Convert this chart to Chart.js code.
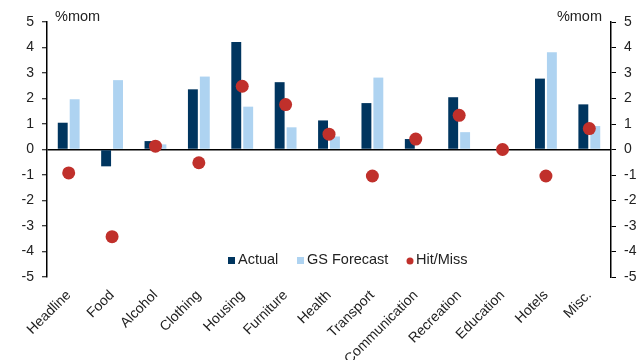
<!DOCTYPE html>
<html>
<head>
<meta charset="utf-8">
<script src="https://cdn.jsdelivr.net/npm/chart.js@4/dist/chart.umd.min.js"></script>
<style>
  html, body { margin: 0; padding: 0; background: #fff; }
  #wrap { width: 644px; height: 360px; }
</style>
</head>
<body>
<div id="wrap"><canvas id="c" width="644" height="360"></canvas></div>
<script>
// CPI components, month-on-month % change
const categories = ['Headline', 'Food', 'Alcohol', 'Clothing', 'Housing', 'Furniture', 'Health',
  'Transport', 'Communication', 'Recreation', 'Education', 'Hotels', 'Misc.'];
const actual     = [1.05, -0.66, 0.33, 2.36, 4.22, 2.64, 1.14, 1.82, 0.41, 2.05, 0.0, 2.78, 1.77];
const gsForecast = [1.97, 2.72, 0.20, 2.86, 1.68, 0.87, 0.51, 2.82, 0.0, 0.68, 0.0, 3.81, 0.92];
const hitMiss    = [-0.92, -3.42, 0.13, -0.52, 2.48, 1.76, 0.60, -1.04, 0.41, 1.34, 0.0, -1.04, 0.82];
const yTicks     = [-5, -4, -3, -2, -1, 0, 1, 2, 3, 4, 5];
const unitLabel  = '%mom';

const FONT = "'Liberation Sans', Arial, sans-serif";
const TEXT = '#222222';
const NAVY = '#00355f';
const LIGHT = '#aed3f1';
const RED = '#c0302b';

// Legend and unit captions drawn inside the plot area
const overlay = {
  id: 'overlay',
  afterDraw(chart) {
    const ctx = chart.ctx;
    const area = chart.chartArea;
    ctx.save();
    ctx.fillStyle = TEXT;
    ctx.font = '14.5px ' + FONT;
    ctx.textBaseline = 'middle';
    ctx.textAlign = 'left';
    ctx.fillText(unitLabel, area.left + 8, 17);
    ctx.textAlign = 'right';
    ctx.fillText(unitLabel, area.right - 9, 17);

    const y = 260;
    const markerX = [228, 297, 406];
    const items = chart.data.datasets;
    ctx.font = '14.5px ' + FONT;
    ctx.textAlign = 'left';
    items.forEach((ds, i) => {
      const x = markerX[i];
      ctx.fillStyle = ds.backgroundColor;
      if (i === 2) {
        ctx.beginPath();
        ctx.arc(x + 4, y + 1, 3.5, 0, Math.PI * 2);
        ctx.fill();
      } else {
        ctx.fillRect(x, y - 3, 7, 7);
      }
      ctx.fillStyle = TEXT;
      ctx.fillText(ds.label, x + 10, y);
    });
    ctx.restore();
  }
};

new Chart(document.getElementById('c'), {
  type: 'bar',
  data: {
    labels: categories,
    datasets: [
      { label: 'Actual', data: actual, backgroundColor: NAVY, order: 1,
        categoryPercentage: 0.55, barPercentage: 0.83 },
      { label: 'GS Forecast', data: gsForecast, backgroundColor: LIGHT, order: 1,
        categoryPercentage: 0.55, barPercentage: 0.83 },
      { label: 'Hit/Miss', data: hitMiss, type: 'line', showLine: false, order: 0,
        backgroundColor: RED, borderColor: RED, pointRadius: 6.5, pointHoverRadius: 6.5,
        pointBorderWidth: 0, pointStyle: 'circle' }
    ]
  },
  options: {
    responsive: false,
    animation: false,
    devicePixelRatio: 1,
    layout: { padding: { top: 22, bottom: 0, left: 0, right: 0 } },
    plugins: { legend: { display: false }, tooltip: { enabled: false } },
    scales: {
      x: {
        grid: { display: false, drawTicks: false },
        border: { display: false },
        ticks: { font: { family: FONT, size: 14 }, color: TEXT, maxRotation: 45, minRotation: 45, padding: 10, autoSkip: false },
        afterFit(s) { s.height = 83; }
      },
      y: {
        position: 'left', min: -5, max: 5,
        afterBuildTicks(s) { s.ticks = yTicks.map(v => ({ value: v })); },
        grid: {
          drawOnChartArea: true,
          color: c => (c.tick && c.tick.value === 0 ? '#000' : 'rgba(0,0,0,0)'),
          tickColor: '#000', tickLength: 5, lineWidth: 1.5, tickWidth: 1
        },
        border: { display: true, color: '#000', width: 1.5 },
        ticks: { font: { family: FONT, size: 14 }, color: TEXT, padding: 8 },
        afterFit(s) { s.width = 47; }
      },
      y2: {
        position: 'right', min: -5, max: 5,
        afterBuildTicks(s) { s.ticks = yTicks.map(v => ({ value: v })); },
        grid: { drawOnChartArea: false, tickColor: '#000', tickLength: 5, tickWidth: 1 },
        border: { display: true, color: '#000', width: 1.5 },
        ticks: { font: { family: FONT, size: 14 }, color: TEXT, padding: 8 },
        afterFit(s) { s.width = 33; }
      }
    }
  },
  plugins: [overlay]
});
</script>
</body>
</html>
